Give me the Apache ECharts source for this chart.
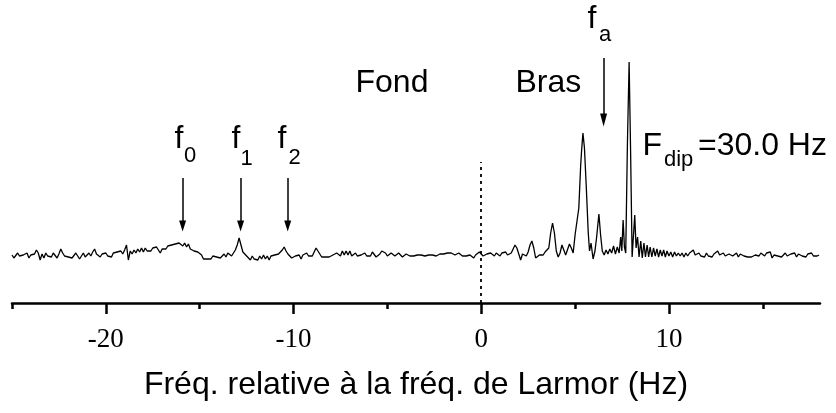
<!DOCTYPE html>
<html>
<head>
<meta charset="utf-8">
<script src="https://cdn.jsdelivr.net/npm/echarts@6/dist/echarts.min.js"></script>
<style>
html,body{margin:0;padding:0;background:#fff;}
#chart{width:836px;height:413px;}
</style>
</head>
<body>
<div id="chart"></div>
<script>
// Spectrum: [frequency relative to Larmor (Hz), intensity (arb. units)]
const spectrum = [
[-25.0,48],[-24.9,45],[-24.8,47],[-24.7,50],[-24.6,47],[-24.5,45],[-24.4,48],[-24.3,46],[-24.2,50],[-24.1,45],
[-24.0,48],[-23.9,46],[-23.8,49],[-23.7,53],[-23.6,50],[-23.5,43],[-23.4,49],[-23.3,45],[-23.2,50],[-23.1,47],
[-23.0,49],[-22.9,46],[-22.8,50],[-22.7,48],[-22.6,45],[-22.5,49],[-22.4,54],[-22.3,50],[-22.2,47],[-22.1,49],
[-22.0,46],[-21.9,48],[-21.8,45],[-21.7,47],[-21.6,50],[-21.5,47],[-21.4,44],[-21.3,47],[-21.2,50],[-21.1,46],
[-21.0,48],[-20.9,50],[-20.8,47],[-20.7,51],[-20.6,54],[-20.5,49],[-20.4,50],[-20.3,46],[-20.2,49],[-20.1,47],
[-20.0,50],[-19.9,47],[-19.8,49],[-19.7,46],[-19.6,50],[-19.5,48],[-19.4,51],[-19.3,49],[-19.2,52],[-19.1,49],
[-19.0,53],[-18.9,58],[-18.8,43],[-18.7,52],[-18.6,49],[-18.5,53],[-18.4,50],[-18.3,54],[-18.2,51],[-18.1,55],
[-18.0,51],[-17.9,55],[-17.8,52],[-17.7,54],[-17.6,52],[-17.5,55],[-17.4,53],[-17.3,56],[-17.2,54],[-17.1,50],
[-17.0,54],[-16.9,56],[-16.8,54],[-16.7,57],[-16.6,55],[-16.5,58],[-16.4,56],[-16.3,59],[-16.2,57],[-16.1,60],
[-16.0,61],[-15.9,57],[-15.8,60],[-15.7,56],[-15.6,59],[-15.5,54],[-15.4,56],[-15.3,52],[-15.2,54],[-15.1,51],
[-15.0,51],[-14.9,48],[-14.8,44],[-14.7,43],[-14.6,44],[-14.5,46],[-14.4,44],[-14.3,47],[-14.2,45],[-14.1,46],
[-14.0,48],[-13.9,45],[-13.8,47],[-13.7,49],[-13.6,46],[-13.5,50],[-13.4,51],[-13.3,47],[-13.2,50],[-13.1,53],
[-13.0,58],[-12.9,65],[-12.8,58],[-12.7,51],[-12.6,49],[-12.5,47],[-12.4,46],[-12.3,43],[-12.2,47],[-12.1,44],
[-12.0,46],[-11.9,43],[-11.8,47],[-11.7,44],[-11.6,48],[-11.5,44],[-11.4,47],[-11.3,43],[-11.2,47],[-11.1,45],
[-11.0,48],[-10.9,46],[-10.8,49],[-10.7,50],[-10.6,53],[-10.5,56],[-10.4,52],[-10.3,49],[-10.2,47],[-10.1,45],
[-10.0,44],[-9.9,47],[-9.8,45],[-9.7,48],[-9.6,44],[-9.5,48],[-9.4,49],[-9.3,50],[-9.2,47],[-9.1,49],
[-9.0,47],[-8.9,51],[-8.8,55],[-8.7,52],[-8.6,49],[-8.5,46],[-8.4,44],[-8.3,46],[-8.2,48],[-8.1,46],
[-8.0,45],[-7.9,48],[-7.8,46],[-7.7,50],[-7.6,51],[-7.5,47],[-7.4,52],[-7.3,48],[-7.2,52],[-7.1,48],
[-7.0,52],[-6.9,47],[-6.8,46],[-6.7,50],[-6.6,47],[-6.5,45],[-6.4,48],[-6.3,46],[-6.2,50],[-6.1,47],
[-6.0,49],[-5.9,47],[-5.8,51],[-5.7,49],[-5.6,46],[-5.5,45],[-5.4,49],[-5.3,52],[-5.2,54],[-5.1,50],
[-5.0,47],[-4.9,49],[-4.8,50],[-4.7,48],[-4.6,47],[-4.5,49],[-4.4,50],[-4.3,48],[-4.2,46],[-4.1,48],
[-4.0,49],[-3.9,50],[-3.8,47],[-3.7,49],[-3.6,47],[-3.5,49],[-3.4,48],[-3.3,46],[-3.2,48],[-3.1,49],
[-3.0,47],[-2.9,49],[-2.8,48],[-2.7,46],[-2.6,48],[-2.5,49],[-2.4,47],[-2.3,48],[-2.2,49],[-2.1,47],
[-2.0,49],[-1.9,47],[-1.8,50],[-1.7,48],[-1.6,50],[-1.5,51],[-1.4,48],[-1.3,47],[-1.2,50],[-1.1,48],
[-1.0,47],[-0.9,49],[-0.8,47],[-0.7,49],[-0.6,48],[-0.5,46],[-0.4,45],[-0.3,48],[-0.2,50],[-0.1,51],
[0.0,49],[0.1,47],[0.2,46],[0.3,49],[0.4,47],[0.5,50],[0.6,52],[0.7,47],[0.8,50],[0.9,51],
[1.0,47],[1.1,50],[1.2,48],[1.3,51],[1.4,48],[1.5,47],[1.6,50],[1.7,54],[1.8,58],[1.9,55],
[2.0,49],[2.1,43],[2.2,49],[2.3,50],[2.4,47],[2.5,51],[2.6,58],[2.7,62],[2.8,55],[2.9,45],
[3.0,47],[3.1,48],[3.2,50],[3.3,48],[3.4,51],[3.5,52],[3.6,55],[3.7,70],[3.8,80],[3.9,70],
[4.0,52],[4.1,46],[4.2,50],[4.3,58],[4.4,53],[4.5,48],[4.6,47],[4.7,59],[4.8,55],[4.9,50],
[5.0,68],[5.1,67],[5.2,95],[5.3,138],[5.35,153],[5.42,170],[5.5,155],[5.6,115],[5.7,71],[5.77,52],
[5.85,60],[5.96,44],[6.06,52],[6.15,66],[6.27,89],[6.36,68],[6.45,52],[6.55,48],[6.65,53],[6.75,49],
[6.85,54],[6.95,50],[7.05,57],[7.15,49],[7.25,56],[7.35,50],[7.43,66],[7.49,52],[7.56,83],[7.63,56],
[7.70,50],[7.79,160],[7.88,241],[7.96,150],[8.04,46],[8.12,70],[8.18,88],[8.25,55],[8.33,66],[8.41,46],
[8.50,62],[8.58,45],[8.67,60],[8.75,46],[8.84,58],[8.92,46],[9.0,56],[9.09,46],[9.18,55],[9.27,47],
[9.36,54],[9.45,46],[9.54,53],[9.63,47],[9.72,53],[9.81,46],[9.9,52],[10.0,47],[10.1,51],[10.2,46],
[10.3,51],[10.4,47],[10.5,50],[10.6,47],[10.7,50],[10.8,46],[10.9,50],[11.0,47],[11.1,50],[11.2,52],
[11.3,53],[11.4,48],[11.5,47],[11.6,50],[11.7,47],[11.8,49],[11.9,46],[12.0,50],[12.1,47],[12.2,49],
[12.3,46],[12.4,49],[12.5,50],[12.6,52],[12.7,48],[12.8,47],[12.9,50],[13.0,47],[13.1,46],[13.2,49],
[13.3,50],[13.4,47],[13.5,49],[13.6,50],[13.7,46],[13.8,49],[13.9,47],[14.0,47],[14.1,46],[14.2,46],
[14.3,47],[14.4,46],[14.5,47],[14.6,48],[14.7,49],[14.8,47],[14.9,50],[15.0,48],[15.1,47],[15.2,50],
[15.3,52],[15.4,51],[15.5,45],[15.6,48],[15.7,50],[15.8,47],[15.9,49],[16.0,46],[16.1,48],[16.2,50],
[16.3,47],[16.4,46],[16.5,49],[16.6,47],[16.7,50],[16.8,46],[16.9,49],[17.0,50],[17.1,47],[17.2,49],
[17.3,46],[17.4,49],[17.5,47],[17.6,50],[17.7,47],[17.8,49],[17.9,47],[18.0,48]
];

const majorTicks = [-20, -10, 0, 10];
const minorTicks = [-25, -15, -5, 5, 15];
const xRange = [-25, 18.05];
const yRange = [0, 250];

// Arrow annotations: frequency and vertical extent (top, tip) in intensity units
const arrowFreqs = [-15.91, -12.82, -10.31];
const arrowSpan = [125, 77];
const faArrowFreq = 6.52;
const faArrowSpan = [245, 183];
const larmorLineSpan = [0, 141];

const xAxisTitle = 'Fréq. relative à la fréq. de Larmor (Hz)';

const SANS = '"Liberation Sans", Arial, sans-serif';
const SERIF = '"Liberation Serif", "Times New Roman", serif';

const chart = echarts.init(document.getElementById('chart'));

function txt(text, x, y, size) {
  return {
    type: 'text', x: x, y: y, silent: true,
    style: {
      text: text, font: size + 'px ' + SANS, fill: '#000',
      align: 'left', verticalAlign: 'middle',
      textAlign: 'left', textVerticalAlign: 'middle'
    }
  };
}

const arrowLines = arrowFreqs.map(f => [
  { coord: [f, arrowSpan[0]], symbol: 'none' },
  { coord: [f, arrowSpan[1]], symbol: 'triangle', symbolSize: [7, 11] }
]);
arrowLines.push([
  { coord: [faArrowFreq, faArrowSpan[0]], symbol: 'none' },
  { coord: [faArrowFreq, faArrowSpan[1]], symbol: 'triangle', symbolSize: [7, 13] }
]);

const option = {
  backgroundColor: '#fff',
  animation: false,
  grid: { left: 12, right: 16, top: 53, bottom: 110, containLabel: false },
  xAxis: [
    {
      type: 'value', min: xRange[0], max: xRange[1], position: 'bottom',
      axisLine: { show: true, onZero: false, lineStyle: { color: '#000', width: 2.5 } },
      axisTick: { show: true, customValues: majorTicks, length: 11, lineStyle: { color: '#000', width: 2.5 } },
      axisLabel: { show: true, customValues: majorTicks, margin: 23, color: '#000', fontFamily: SERIF, fontSize: 27 },
      splitLine: { show: false },
      name: xAxisTitle, nameLocation: 'middle', nameGap: 66,
      nameTextStyle: { color: '#000', fontFamily: SANS, fontSize: 32 }
    },
    {
      type: 'value', min: xRange[0], max: xRange[1], position: 'bottom',
      axisLine: { show: false, onZero: false },
      axisTick: { show: true, customValues: minorTicks, length: 6, lineStyle: { color: '#000', width: 2.5 } },
      axisLabel: { show: false },
      splitLine: { show: false }
    }
  ],
  yAxis: { type: 'value', min: yRange[0], max: yRange[1], show: false, splitLine: { show: false } },
  series: [
    {
      type: 'line', data: spectrum, xAxisIndex: 0, showSymbol: false, symbol: 'none',
      lineStyle: { color: '#000', width: 1.3 }, silent: true,
      markLine: {
        silent: true, animation: false,
        label: { show: false },
        lineStyle: { color: '#000', width: 1.5, type: 'solid' },
        data: arrowLines.concat([[
          { coord: [0, larmorLineSpan[0]], symbol: 'none', lineStyle: { type: [3, 4], width: 1.8 } },
          { coord: [0, larmorLineSpan[1]], symbol: 'none' }
        ]])
      }
    }
  ],
  graphic: [
    txt('Fond', 355.5, 83, 32),
    txt('Bras', 515.5, 83, 32),
    txt('f', 587.5, 19, 32),
    txt('a', 599, 35, 22),
    txt('F', 642.5, 146, 32),
    txt('dip', 664, 160, 22),
    txt('=30.0 Hz', 698, 146, 32),
    txt('f', 174.5, 139.5, 32),
    txt('0', 184, 156, 22),
    txt('f', 231.5, 139.5, 32),
    txt('1', 240.5, 159, 22),
    txt('f', 277.5, 139.5, 32),
    txt('2', 288.5, 158, 22)
  ]
};
chart.setOption(option);
</script>
</body>
</html>
